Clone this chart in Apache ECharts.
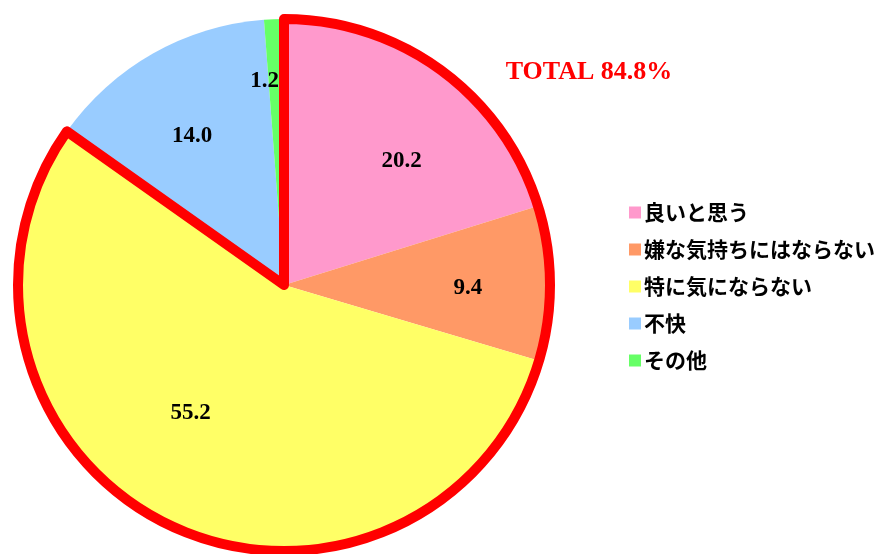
<!DOCTYPE html>
<html><head><meta charset="utf-8">
<script src="https://cdn.jsdelivr.net/npm/echarts@6/dist/echarts.min.js"></script>
<style>html,body{margin:0;padding:0;background:#fff}#c{width:886px;height:554px}</style>
</head><body><div id="c"></div>
<script>
const categories = ['良いと思う','嫌な気持ちにはならない','特に気にならない','不快','その他'];
const values = [20.2, 9.4, 55.2, 14.0, 1.2];
const colors = ['#FF99CC','#FF9966','#FFFF66','#99CCFF','#66FF66'];
const highlightCount = 3;
const totalLabel = 'TOTAL 84.8%';

const total = values.reduce((a,b)=>a+b,0);
const hl = values.slice(0, highlightCount).reduce((a,b)=>a+b,0);
const center = [284, 285];
const R = 266;
const labelOffsets = [[18, 11], [16, 4], [-20, -23], [-9, -3], [-13, -36]];

const chart = echarts.init(document.getElementById('c'));
chart.setOption({
  animation: false,
  title: {
    text: totalLabel, left: 584, top: 54, textAlign: 'center',
    textStyle: {color: '#FF0000', fontFamily: 'Liberation Serif', fontWeight: 'bold', fontSize: 26}
  },
  legend: {
    orient: 'vertical', left: 624, top: 197,
    data: categories, itemWidth: 12, itemHeight: 12, itemGap: 16, icon: 'rect',
    textStyle: {fontFamily: 'Noto Sans CJK JP', fontWeight: 'bold', fontSize: 21, color: '#000', padding: [0,0,0,-2]}
  },
  series: [
    {
      type: 'pie', center: center, radius: [0, R], startAngle: 90, clockwise: true,
      silent: true, label: {show: false}, labelLine: {show: false},
      data: categories.map((n,i)=>({name: n, value: values[i], itemStyle: {color: colors[i]}}))
    },
    {
      type: 'pie', center: center, radius: [0, R], startAngle: 90, clockwise: true,
      silent: true, label: {show: false}, labelLine: {show: false}, z: 5,
      data: [
        {name: 'hl', value: hl, itemStyle: {color: 'rgba(0,0,0,0)', borderColor: '#FF0000', borderWidth: 10, borderJoin: 'round'}},
        {name: 'rest', value: total - hl, itemStyle: {color: 'rgba(0,0,0,0)', borderWidth: 0}}
      ]
    },
    {
      type: 'pie', center: center, radius: [0, 330], startAngle: 90, clockwise: true,
      silent: true, labelLine: {show: false}, z: 6,
      itemStyle: {color: 'rgba(0,0,0,0)'},
      label: {show: true, position: 'inside', formatter: p => p.value.toFixed(1),
        fontFamily: 'Liberation Serif', fontWeight: 'bold', fontSize: 23, color: '#000'},
      data: categories.map((n,i)=>({name: n, value: values[i],
        label: {offset: labelOffsets[i]}}))
    }
  ]
});
</script></body></html>
